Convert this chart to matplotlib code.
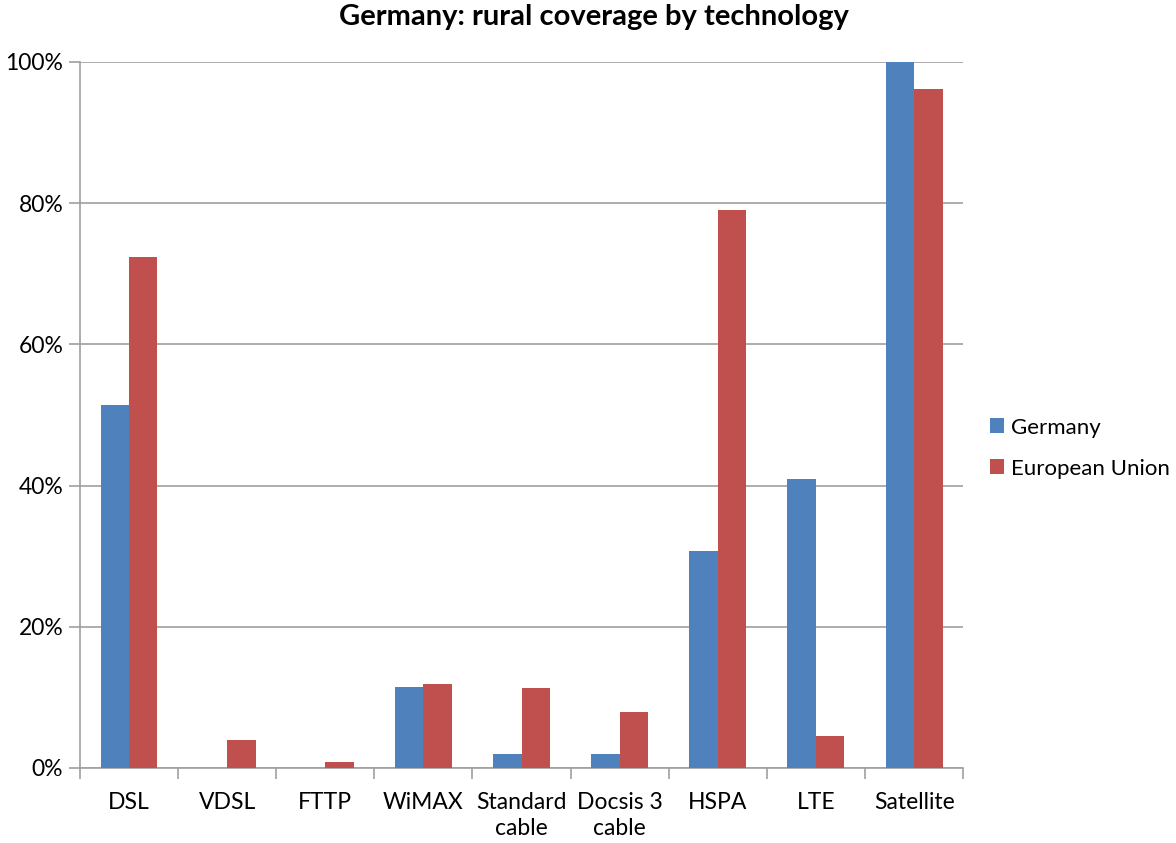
import matplotlib
matplotlib.use("Agg")
import matplotlib.pyplot as plt
import numpy as np
from matplotlib.ticker import FuncFormatter, FixedLocator

plt.rcParams['font.family'] = ['Lato', 'DejaVu Sans']

categories = ["DSL", "VDSL", "FTTP", "WiMAX", "Standard\ncable",
              "Docsis 3\ncable", "HSPA", "LTE", "Satellite"]
germany = [51.4, 0.0, 0.0, 11.5, 2.0, 2.0, 30.7, 40.9, 100.0]
eu = [72.4, 4.0, 0.85, 11.9, 11.3, 7.9, 79.0, 4.5, 96.2]

blue = "#4F81BD"
red = "#C0504D"
grey = "#A0A0A0"

fig = plt.figure(figsize=(11.76, 8.43), dpi=100)
ax = fig.add_axes([0.068, 0.089, 0.751, 0.8375])

x = np.arange(len(categories))
w = 0.29
ax.bar(x - w / 2, germany, w, color=blue, label="Germany", zorder=3)
ax.bar(x + w / 2, eu, w, color=red, label="European Union", zorder=3)

ax.set_xlim(-0.5, len(categories) - 0.5)
ax.set_ylim(0, 100)
ax.set_yticks(np.arange(0, 101, 20))
ax.yaxis.set_major_formatter(FuncFormatter(lambda v, p: f"{v:.0f}%"))
ax.yaxis.grid(True, color=grey, linewidth=1.2, zorder=0)

# category labels centred, tick marks on boundaries
ax.set_xticks(x)
ax.set_xticklabels(categories, fontsize=16.5, linespacing=1.3)
ax.tick_params(axis='x', which='major', length=0, pad=17)
ax.xaxis.set_minor_locator(FixedLocator(np.arange(-0.5, len(categories), 1)))
ax.tick_params(axis='x', which='minor', length=8, width=1.2, color=grey, direction='out')
ax.tick_params(axis='y', length=8, width=1.2, color=grey, labelsize=16.5, pad=4)

for s in ["top", "right"]:
    ax.spines[s].set_visible(False)
for s in ["left", "bottom"]:
    ax.spines[s].set_color(grey)
    ax.spines[s].set_linewidth(1.2)

fig.suptitle("Germany: rural coverage by technology", x=0.505, y=0.995,
             fontsize=21, fontweight="bold")

ax.legend(loc="center left", bbox_to_anchor=(1.02, 0.453), frameon=False,
          fontsize=16, handlelength=0.65, handleheight=0.65, handletextpad=0.3,
          labelspacing=0.95, borderaxespad=0)

fig.savefig("out.png", dpi=100)
